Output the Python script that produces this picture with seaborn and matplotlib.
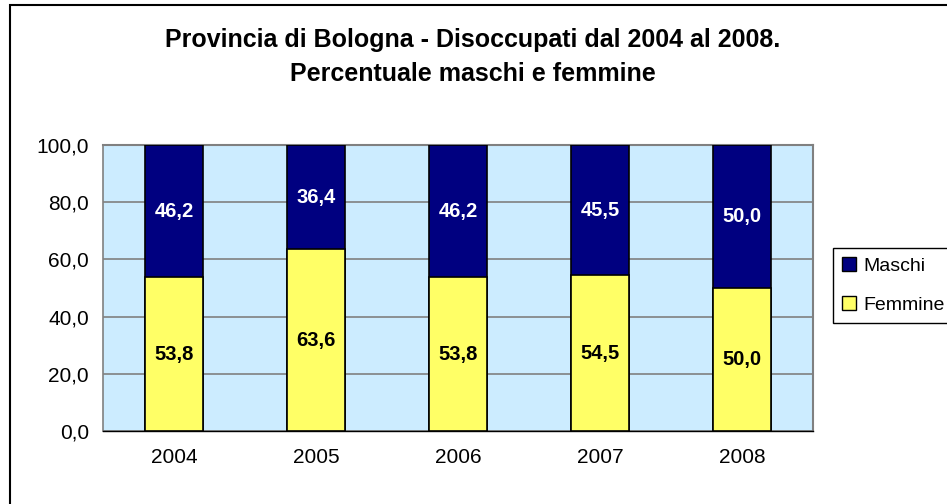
import matplotlib
matplotlib.use("Agg")
import matplotlib.pyplot as plt
import pandas as pd
import seaborn as sns
from matplotlib.patches import Patch, Rectangle
from matplotlib.ticker import FuncFormatter, FixedLocator

anni = ["2004", "2005", "2006", "2007", "2008"]
femmine = [53.8, 63.6, 53.8, 54.5, 50.0]
maschi = [46.2, 36.4, 46.2, 45.5, 50.0]

NAVY = "#000080"
YELLOW = "#FFFF66"
BG = "#CCECFF"

sns.set_theme(style="white")
plt.rcParams["font.family"] = ["Liberation Sans", "DejaVu Sans"]
plt.rcParams["text.color"] = "black"
plt.rcParams["xtick.color"] = "black"
plt.rcParams["ytick.color"] = "black"

df = pd.DataFrame({"anno": anni, "femmine": femmine, "maschi": maschi})
df["totale"] = df["femmine"] + df["maschi"]

fig = plt.figure(figsize=(9.47, 5.04), dpi=100)
ax = fig.add_axes([103 / 947, 73 / 504, 710 / 947, 286 / 504])
ax.set_facecolor(BG)

sns.barplot(data=df, x="anno", y="totale", color=NAVY, width=0.41,
            edgecolor="black", linewidth=1.2, saturation=1, ax=ax, zorder=3)
sns.barplot(data=df, x="anno", y="femmine", color=YELLOW, width=0.41,
            edgecolor="black", linewidth=1.2, saturation=1, ax=ax, zorder=3)

for i, (f, m) in enumerate(zip(femmine, maschi)):
    ax.text(i, f / 2, f"{f:.1f}".replace(".", ","), ha="center", va="center",
            fontsize=14.5, fontweight="bold", color="black", zorder=4)
    ax.text(i, f + m / 2, f"{m:.1f}".replace(".", ","), ha="center", va="center",
            fontsize=14.5, fontweight="bold", color="white", zorder=4)

ax.set_xlim(-0.5, len(anni) - 0.5)
ax.set_ylim(0, 100)
ax.set_yticks(range(0, 101, 20))
ax.yaxis.set_major_formatter(FuncFormatter(lambda v, p: f"{v:.1f}".replace(".", ",")))
ax.yaxis.grid(True, color="#808080", linewidth=1.2, zorder=0)
ax.set_axisbelow(True)
ax.set_xlabel("")
ax.set_ylabel("")

# tick marks sit between categories, labels at the centres
ax.xaxis.set_minor_locator(FixedLocator([i - 0.5 for i in range(len(anni) + 1)]))
ax.tick_params(axis="x", which="major", length=0, labelsize=15, pad=12)
ax.tick_params(axis="x", which="minor", length=5, width=1, color="black", direction="out")
ax.tick_params(axis="y", length=5, width=1, color="black", direction="out", labelsize=15, pad=5)

for side in ["top", "right"]:
    ax.spines[side].set_color("#808080")
    ax.spines[side].set_linewidth(1.5)
ax.spines["left"].set_color("#808080")
ax.spines["left"].set_linewidth(1.2)
ax.spines["bottom"].set_color("black")
ax.spines["bottom"].set_linewidth(1.0)

fig.text(473 / 947, 1 - 47 / 504, "Provincia di Bologna - Disoccupati dal 2004 al 2008.",
         ha="center", va="baseline", fontsize=18, fontweight="bold", color="black")
fig.text(473 / 947, 1 - 81 / 504, "Percentuale maschi e femmine",
         ha="center", va="baseline", fontsize=18, fontweight="bold", color="black")

handles = [Patch(facecolor=NAVY, edgecolor="black", label="Maschi"),
           Patch(facecolor=YELLOW, edgecolor="black", label="Femmine")]
leg = fig.legend(handles=handles, loc="upper left",
                 bbox_to_anchor=(833 / 947, 1 - 248 / 504), frameon=True,
                 fontsize=14, handlelength=0.75, handleheight=0.75,
                 handletextpad=0.35, labelspacing=1.1, borderpad=0.45,
                 borderaxespad=0, fancybox=False, edgecolor="black", framealpha=1)
leg.get_frame().set_linewidth(1.0)
for t in leg.get_texts():
    t.set_color("black")

fig.patches.append(Rectangle((10 / 947, -0.1), 1.2, 1 - 5 / 504 + 0.1,
                             transform=fig.transFigure, fill=False,
                             edgecolor="black", linewidth=1.5))

fig.savefig("out.png", dpi=100)
